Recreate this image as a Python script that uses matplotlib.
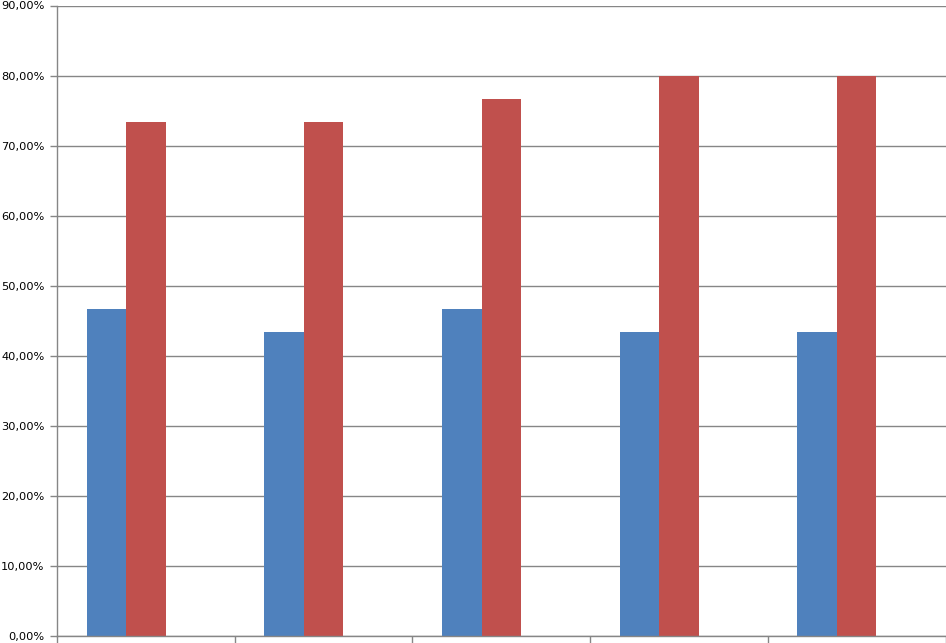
import numpy as np
import matplotlib
matplotlib.use('Agg')
import matplotlib.pyplot as plt
from matplotlib.ticker import FuncFormatter

# values (fractions)
groups = ['1', '2', '3', '4', '5']
serie_azul = [0.4667, 0.4333, 0.4667, 0.4333, 0.4333]
serie_roja = [0.7333, 0.7333, 0.7667, 0.8000, 0.8000]
y_ticks = [0.0, 0.1, 0.2, 0.3, 0.4, 0.5, 0.6, 0.7, 0.8, 0.9]

fig = plt.figure(figsize=(9.46, 6.43), dpi=100)
ax = fig.add_axes([57 / 946, 7 / 643, 888.5 / 946, 630.5 / 643])

x = np.arange(len(groups))
# excel style clustered layout: 3 slots per category, gap 150%
w = 1 / 4.5
ax.bar(x - w, serie_azul, w, color='#4F81BD', align='center')
ax.bar(x, serie_roja, w, color='#C0504D', align='center')

ax.set_xlim(-0.5, len(groups) - 0.5)
ax.set_ylim(0, 0.9)
ax.set_yticks(y_ticks)
ax.yaxis.set_major_formatter(FuncFormatter(lambda v, p: ('%.2f%%' % (v * 100)).replace('.', ',')))
ax.set_xticks(np.arange(len(groups) + 1) - 0.5)
ax.set_xticklabels([])

ax.grid(axis='y', color='#868686', linewidth=1)
ax.set_axisbelow(True)
for s in ['top', 'right']:
    ax.spines[s].set_visible(False)
for s in ['left', 'bottom']:
    ax.spines[s].set_color('#868686')
    ax.spines[s].set_linewidth(1)
ax.tick_params(axis='both', color='#868686', length=5, width=1, labelsize=8.2, pad=4)

fig.savefig('out.png', dpi=100)
